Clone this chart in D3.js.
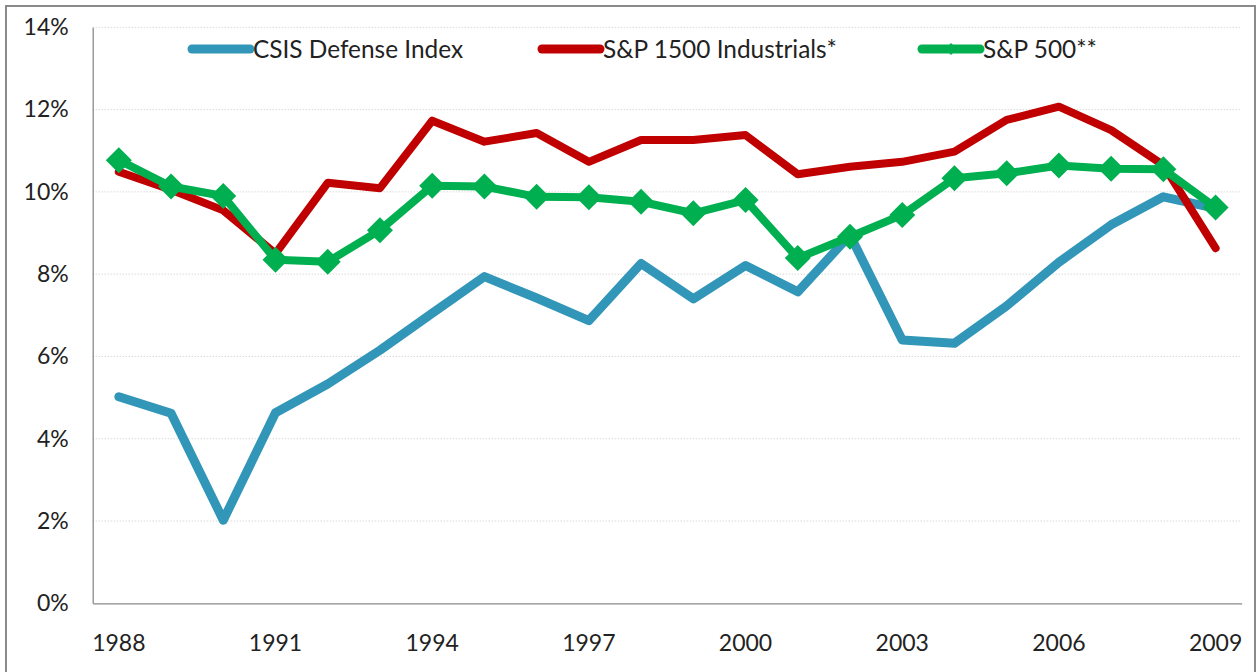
<!DOCTYPE html>
<html><head><meta charset="utf-8">
<script src="https://cdn.jsdelivr.net/npm/d3@7"></script>
<style>body{margin:0;background:#fff}svg{display:block}text{font-family:Lato,"Open Sans",sans-serif;fill:#222}</style>
</head><body><svg id="c" width="1257" height="672"></svg>
<script>
const years = [1988,1989,1990,1991,1992,1993,1994,1995,1996,1997,1998,1999,2000,2001,2002,2003,2004,2005,2006,2007,2008,2009];
const csis = [5.02,4.62,2.02,4.63,5.33,6.15,7.05,7.94,7.42,6.87,8.26,7.40,8.21,7.57,8.95,6.40,6.32,7.23,8.29,9.2,9.88,9.6];
const sp1500 = [10.49,10.05,9.55,8.5,10.22,10.09,11.73,11.22,11.43,10.73,11.26,11.26,11.38,10.43,10.61,10.73,10.98,11.75,12.07,11.5,10.65,8.63];
const sp500 = [10.77,10.13,9.9,8.35,8.30,9.07,10.15,10.13,9.88,9.87,9.76,9.48,9.80,8.39,8.91,9.44,10.33,10.45,10.64,10.56,10.55,9.62];
const yTicks = [0,2,4,6,8,10,12,14];
const xLabelYears = [1988,1991,1994,1997,2000,2003,2006,2009];
const seriesNames = ["CSIS Defense Index","S&P 1500 Industrials*","S&P 500**"];
const colors = ["#3296B9","#C00000","#00B050"];

const svg = d3.select("#c");
svg.append("rect").attr("x",6).attr("y",6).attr("width",1249).attr("height",700)
  .attr("fill","#fff").attr("stroke","#8a8a8a").attr("stroke-width",2);

const L=92.7,R=1241.7,T=27.3,B=603.3;
const x = d3.scaleBand().domain(years).range([L,R]);
const y = d3.scaleLinear().domain([0,14]).range([B,T]);
const cx = d=>x(d)+x.bandwidth()/2;

svg.append("g").selectAll("line").data(yTicks.filter(d=>d>0)).join("line")
  .attr("x1",L).attr("x2",R).attr("y1",d=>y(d)).attr("y2",d=>y(d))
  .attr("stroke","#c8c8c8").attr("stroke-width",1).attr("stroke-dasharray","1,2");

const ya = svg.append("g").attr("transform",`translate(${L},0)`)
  .call(d3.axisLeft(y).tickValues(yTicks).tickFormat(d=>d+"%").tickSize(0).tickPadding(24));
ya.select(".domain").attr("stroke","#8a8a8a").attr("stroke-width",1.3);
ya.selectAll("text").attr("font-size",23).attr("font-family","Lato").attr("fill","#222");

const xa = svg.append("g").attr("transform",`translate(0,${B})`)
  .call(d3.axisBottom(x).tickValues(xLabelYears).tickSize(0).tickPadding(31));
xa.select(".domain").attr("stroke","#8a8a8a").attr("stroke-width",1.3);
xa.selectAll("text").attr("font-size",23).attr("font-family","Lato").attr("fill","#222");

const line = d3.line().x((d,i)=>cx(years[i])).y(d=>y(d));
const data = [csis,sp1500,sp500];
const widths = [9,8,8];
data.forEach((s,k)=>{
  svg.append("path").datum(s).attr("d",line).attr("fill","none")
    .attr("stroke",colors[k]).attr("stroke-width",widths[k])
    .attr("stroke-linejoin","round").attr("stroke-linecap","round");
});
const diamond = r=>`M0,${-r}L${r},0L0,${r}L${-r},0Z`;
svg.append("g").selectAll("path").data(sp500).join("path")
  .attr("transform",(d,i)=>`translate(${cx(years[i])},${y(d)})`)
  .attr("d",diamond(13)).attr("fill",colors[2]);

const legX = [192,542,922];
seriesNames.forEach((n,k)=>{
  const g = svg.append("g").attr("transform",`translate(${legX[k]},49)`);
  g.append("line").attr("x1",0).attr("x2",58).attr("y1",0).attr("y2",0)
    .attr("stroke",colors[k]).attr("stroke-width",9).attr("stroke-linecap","round");
  if(k===2) g.append("path").attr("transform","translate(29,0)").attr("d",diamond(6)).attr("fill",colors[k]);
  g.append("text").attr("x",61).attr("y",0).attr("dy","0.35em").attr("font-size",24.4).text(n);
});
</script></body></html>
